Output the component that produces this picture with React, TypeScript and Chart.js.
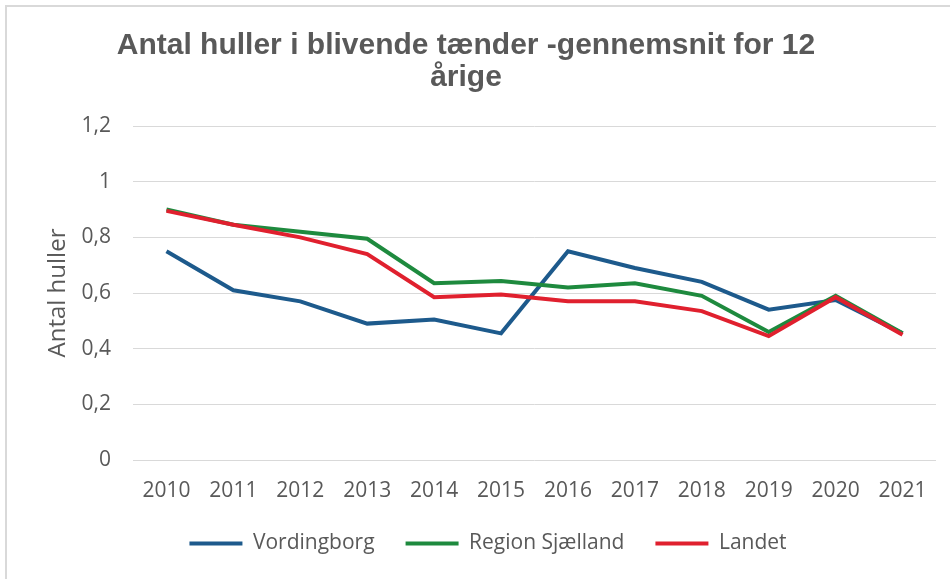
import React, { useEffect, useRef } from "react";
import { Chart, registerables } from "chart.js";

Chart.register(...registerables);

const years = ["2010", "2011", "2012", "2013", "2014", "2015", "2016", "2017", "2018", "2019", "2020", "2021"];
const vordingborg = [0.75, 0.61, 0.57, 0.49, 0.505, 0.455, 0.75, 0.69, 0.64, 0.54, 0.575, 0.455];
const regionSjaelland = [0.9, 0.845, 0.82, 0.795, 0.635, 0.643, 0.62, 0.635, 0.59, 0.46, 0.59, 0.455];
const landet = [0.895, 0.845, 0.8, 0.74, 0.585, 0.595, 0.57, 0.57, 0.535, 0.445, 0.585, 0.45];
const yTickLabels = ["0", "0,2", "0,4", "0,6", "0,8", "1", "1,2"];
const titleLines = ["Antal huller i blivende tænder -gennemsnit for 12", "årige"];
const seriesNames = ["Vordingborg", "Region Sjælland", "Landet"];

const GREY = "#595959";
const FONT = "'Open Sans', 'Noto Sans', sans-serif";

const framePlugin = {
  id: "frameAndTitle",
  beforeDraw(chart: any) {
    const ctx = chart.ctx;
    ctx.save();
    ctx.fillStyle = "#ffffff";
    ctx.fillRect(0, 0, chart.width, chart.height);
    ctx.strokeStyle = "#d9d9d9";
    ctx.lineWidth = 2;
    ctx.beginPath();
    ctx.moveTo(6, chart.height);
    ctx.lineTo(6, 6);
    ctx.lineTo(chart.width, 6);
    ctx.stroke();
    ctx.restore();
  },
  afterDraw(chart: any) {
    const ctx = chart.ctx;
    ctx.save();
    ctx.fillStyle = GREY;
    ctx.font = "bold 30px 'Liberation Sans', Arial, sans-serif";
    ctx.textAlign = "center";
    ctx.textBaseline = "alphabetic";
    titleLines.forEach((line, i) => ctx.fillText(line, 466, 54 + i * 32));
    ctx.restore();
  },
};

export default function App() {
  const ref = useRef<HTMLCanvasElement>(null);
  useEffect(() => {
    if (!ref.current) return;
    const chart = new Chart(ref.current, {
      type: "line",
      data: {
        labels: years,
        datasets: [
          { label: seriesNames[0], data: vordingborg, borderColor: "#1d5a8c", backgroundColor: "#1d5a8c", borderWidth: 4, pointRadius: 0, order: 2 },
          { label: seriesNames[1], data: regionSjaelland, borderColor: "#1e8a3e", backgroundColor: "#1e8a3e", borderWidth: 4, pointRadius: 0, order: 1 },
          { label: seriesNames[2], data: landet, borderColor: "#e0202e", backgroundColor: "#e0202e", borderWidth: 4, pointRadius: 0, order: 0 },
        ],
      },
      options: {
        animation: false,
        responsive: false,
        layout: { padding: { top: 126, left: 40, right: 14, bottom: 15 } },
        plugins: {
          title: { display: false },
          legend: {
            position: "bottom",
            labels: {
              color: GREY,
              font: { family: FONT, size: 21 },
              usePointStyle: true,
              pointStyle: "line",
              pointStyleWidth: 53,
              padding: 31,
              sort: (a: any, b: any) => a.datasetIndex - b.datasetIndex,
            },
          },
          tooltip: { enabled: false },
        },
        scales: {
          x: {
            offset: true,
            afterFit(scale: any) {
              scale.height = 42;
            },
            grid: { display: false, drawTicks: false },
            border: { display: false },
            ticks: { color: GREY, font: { family: FONT, size: 21 }, padding: 18, maxRotation: 0 },
          },
          y: {
            min: 0,
            max: 1.2,
            afterFit(scale: any) {
              scale.width = 93;
            },
            grid: { color: "#d9d9d9", lineWidth: 1, drawTicks: false },
            border: { display: false },
            ticks: {
              stepSize: 0.2,
              color: GREY,
              font: { family: FONT, size: 21 },
              padding: 22,
              callback: (_v: any, i: number) => yTickLabels[i],
            },
            title: {
              display: true,
              text: "Antal huller",
              color: GREY,
              font: { family: FONT, size: 24 },
              padding: { top: 4, bottom: 0 },
            },
          },
        },
      },
      plugins: [framePlugin],
    });
    return () => chart.destroy();
  }, []);
  return (
    <div style={{ position: "fixed", left: 0, top: 0, width: 950, height: 579 }}>
      <canvas ref={ref} width={950} height={579} />
    </div>
  );
}
